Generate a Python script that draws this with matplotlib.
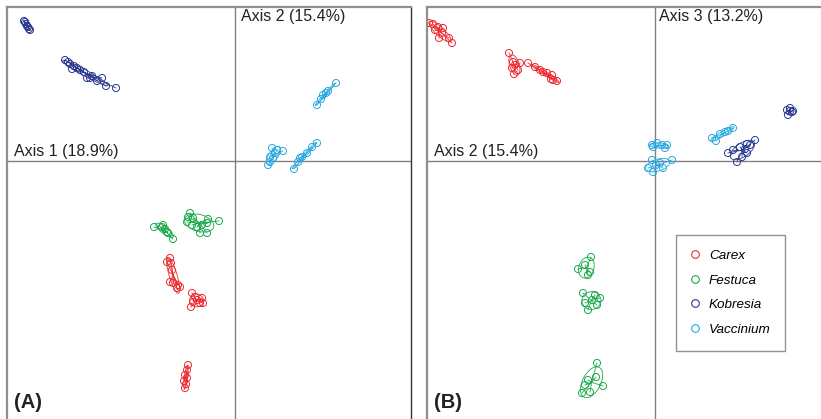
import numpy as np
import matplotlib
matplotlib.use('Agg')
import matplotlib.pyplot as plt
from matplotlib.patches import Ellipse
from matplotlib.lines import Line2D

plt.rcParams['font.family'] = ['Liberation Sans', 'DejaVu Sans']

# colours of the four genera
RED = '#EE2A30'
GREEN = '#1BA94C'
DBLUE = '#2B3990'
LBLUE = '#27AAE1'

species = ['Carex', 'Festuca', 'Kobresia', 'Vaccinium']
species_colors = [RED, GREEN, DBLUE, LBLUE]

# Panel A: axis 1 (x) vs axis 2 (y) scores, one list pair per sub-group
a_kob1_x = [-2.10, -2.09, -2.08, -2.06, -2.05, -2.11, -2.07]
a_kob1_y = [1.39, 1.37, 1.35, 1.32, 1.31, 1.40, 1.34]
a_kob2_x = [-1.70, -1.67, -1.65, -1.63, -1.61, -1.58, -1.55, -1.51, -1.48, -1.43, -1.38, -1.33, -1.29, -1.19, -1.45]
a_kob2_y = [1.01, 0.99, 0.97, 0.92, 0.95, 0.93, 0.91, 0.89, 0.83, 0.85, 0.80, 0.83, 0.75, 0.73, 0.83]

a_vac1_x = [1.01, 0.93, 0.91, 0.88, 0.82, 0.86]
a_vac1_y = [0.78, 0.70, 0.68, 0.66, 0.56, 0.62]
a_vac2_x = [0.82, 0.77, 0.72, 0.67, 0.65, 0.63, 0.59]
a_vac2_y = [0.18, 0.14, 0.08, 0.04, 0.03, -0.01, -0.08]
a_vac3_x = [0.37, 0.42, 0.48, 0.40, 0.35, 0.38, 0.35, 0.33]
a_vac3_y = [0.13, 0.11, 0.10, 0.08, 0.04, 0.03, -0.01, -0.04]

a_fes1_x = [-0.81, -0.73, -0.72, -0.70, -0.68, -0.67, -0.62]
a_fes1_y = [-0.66, -0.66, -0.64, -0.68, -0.71, -0.72, -0.78]
a_fes2_x = [-0.45, -0.47, -0.48, -0.42, -0.43, -0.38, -0.33, -0.28, -0.27, -0.16, -0.28, -0.35]
a_fes2_y = [-0.52, -0.56, -0.61, -0.57, -0.64, -0.66, -0.64, -0.62, -0.58, -0.60, -0.72, -0.72]

a_car1_x = [-0.65, -0.68, -0.64, -0.63, -0.65, -0.62, -0.57, -0.58, -0.55]
a_car1_y = [-0.97, -1.01, -1.02, -1.09, -1.21, -1.22, -1.24, -1.27, -1.26]
a_car2_x = [-0.43, -0.40, -0.38, -0.33, -0.35, -0.44, -0.42, -0.32]
a_car2_y = [-1.32, -1.36, -1.39, -1.37, -1.42, -1.46, -1.41, -1.42]
a_car3_x = [-0.47, -0.48, -0.50, -0.48, -0.51, -0.49, -0.50]
a_car3_y = [-2.04, -2.09, -2.14, -2.17, -2.20, -2.23, -2.27]

# Panel B: axis 2 (x) vs axis 3 (y)
b_car1_x = [-2.26, -2.22, -2.17, -2.12, -2.20, -2.13, -2.16, -2.06, -2.03]
b_car1_y = [1.38, 1.37, 1.34, 1.33, 1.31, 1.28, 1.23, 1.23, 1.18]
b_car2_x = [-1.46, -1.42, -1.43, -1.41, -1.37, -1.35, -1.40]
b_car2_y = [1.08, 0.99, 0.93, 0.87, 0.91, 0.98, 0.96]
b_car3_x = [-1.27, -1.20, -1.15, -1.12, -1.08, -1.03, -1.04, -1.02, -0.98]
b_car3_y = [0.98, 0.94, 0.91, 0.89, 0.88, 0.86, 0.82, 0.81, 0.80]

b_kob1_x = [1.32, 1.35, 1.38, 1.33, 1.37]
b_kob1_y = [0.51, 0.53, 0.50, 0.46, 0.49]
b_kob2_x = [0.73, 0.78, 0.85, 0.90, 0.92, 0.95, 1.00, 0.82, 0.87, 0.92]
b_kob2_y = [0.08, 0.11, 0.14, 0.12, 0.17, 0.16, 0.21, -0.01, 0.04, 0.08]

b_vac1_x = [0.57, 0.61, 0.65, 0.70, 0.73, 0.78]
b_vac1_y = [0.23, 0.20, 0.27, 0.29, 0.30, 0.33]
b_vac2_x = [-0.03, 0.02, 0.07, 0.12, 0.10, -0.02]
b_vac2_y = [0.16, 0.18, 0.16, 0.16, 0.13, 0.14]
b_vac3_x = [-0.03, -0.07, -0.02, 0.08, 0.17, 0.05, 0.01]
b_vac3_y = [0.01, -0.07, -0.11, -0.07, 0.01, -0.02, -0.04]

b_fes1_x = [-0.64, -0.77, -0.67, -0.70, -0.65]
b_fes1_y = [-0.96, -1.08, -1.14, -1.04, -1.11]
b_fes2_x = [-0.72, -0.60, -0.55, -0.67, -0.70, -0.63, -0.58]
b_fes2_y = [-1.32, -1.34, -1.37, -1.49, -1.42, -1.39, -1.44]
b_fes3_x = [-0.58, -0.59, -0.52, -0.70, -0.73, -0.65, -0.67]
b_fes3_y = [-2.02, -2.16, -2.25, -2.24, -2.32, -2.31, -2.19]

groups_a = [
    (RED, a_car1_x, a_car1_y), (RED, a_car2_x, a_car2_y), (RED, a_car3_x, a_car3_y),
    (GREEN, a_fes1_x, a_fes1_y), (GREEN, a_fes2_x, a_fes2_y),
    (DBLUE, a_kob1_x, a_kob1_y), (DBLUE, a_kob2_x, a_kob2_y),
    (LBLUE, a_vac1_x, a_vac1_y), (LBLUE, a_vac2_x, a_vac2_y), (LBLUE, a_vac3_x, a_vac3_y),
]
groups_b = [
    (RED, b_car1_x, b_car1_y), (RED, b_car2_x, b_car2_y), (RED, b_car3_x, b_car3_y),
    (GREEN, b_fes1_x, b_fes1_y), (GREEN, b_fes2_x, b_fes2_y), (GREEN, b_fes3_x, b_fes3_y),
    (DBLUE, b_kob1_x, b_kob1_y), (DBLUE, b_kob2_x, b_kob2_y),
    (LBLUE, b_vac1_x, b_vac1_y), (LBLUE, b_vac2_x, b_vac2_y), (LBLUE, b_vac3_x, b_vac3_y),
]


def draw_class(ax, color, xs, ys):
    # s.class style: spider to centroid, 1.5 sd ellipse, open points
    x = np.array(xs)
    y = np.array(ys)
    cx, cy = x.mean(), y.mean()
    for xi, yi in zip(x, y):
        ax.plot([cx, xi], [cy, yi], color=color, lw=0.6, zorder=2)
    cov = np.cov(x, y)
    vals, vecs = np.linalg.eigh(cov)
    angle = np.degrees(np.arctan2(vecs[1, 1], vecs[0, 1]))
    w = 2 * 1.5 * np.sqrt(max(vals[1], 0))
    h = 2 * 1.5 * np.sqrt(max(vals[0], 0))
    ax.add_patch(Ellipse((cx, cy), w, h, angle=angle, fill=False,
                         edgecolor=color, lw=0.6, zorder=2))
    ax.scatter(x, y, s=26, facecolors='none', edgecolors=color,
               linewidths=0.7, zorder=3)


def setup_panel(ax, xlim, ylim, right_spine):
    ax.set_xlim(*xlim)
    ax.set_ylim(*ylim)
    ax.set_xticks([])
    ax.set_yticks([])
    ax.spines['bottom'].set_visible(False)
    for side in ['left', 'top']:
        ax.spines[side].set_color('#8f8f8f')
        ax.spines[side].set_linewidth(1.6)
    if right_spine:
        ax.spines['right'].set_color('#333333')
        ax.spines['right'].set_linewidth(1.0)
    else:
        ax.spines['right'].set_visible(False)
    ax.axhline(0, color='#808080', lw=1.0, zorder=1)
    ax.axvline(0, color='#808080', lw=1.0, zorder=1)


fig = plt.figure(figsize=(8.21, 4.19), dpi=100)
ax_a = fig.add_axes([7 / 821, 0, 404 / 821, 412 / 419])
ax_b = fig.add_axes([427 / 821, 0, 394 / 821, 412 / 419])

setup_panel(ax_a, (-2.28, 1.76), (-2.58, 1.54), True)
setup_panel(ax_b, (-2.28, 1.66), (-2.58, 1.54), False)

for color, xs, ys in groups_a:
    draw_class(ax_a, color, xs, ys)
for color, xs, ys in groups_b:
    draw_class(ax_b, color, xs, ys)

lab = dict(fontsize=11.5, color='#222222')
ax_a.text(0.579, 0.995, 'Axis 2 (15.4%)', transform=ax_a.transAxes, va='top', ha='left', **lab)
ax_a.text(0.017, 0.631, 'Axis 1 (18.9%)', transform=ax_a.transAxes, va='bottom', ha='left', **lab)
ax_b.text(0.589, 0.995, 'Axis 3 (13.2%)', transform=ax_b.transAxes, va='top', ha='left', **lab)
ax_b.text(0.018, 0.631, 'Axis 2 (15.4%)', transform=ax_b.transAxes, va='bottom', ha='left', **lab)

ax_a.text(0.017, 0.027, '(A)', transform=ax_a.transAxes, fontsize=14.5,
          fontweight='bold', color='#222222', va='baseline')
ax_b.text(0.018, 0.027, '(B)', transform=ax_b.transAxes, fontsize=14.5,
          fontweight='bold', color='#222222', va='baseline')

handles = [Line2D([], [], ls='none', marker='o', markersize=5.5, markerfacecolor='none',
                  markeredgecolor=c, markeredgewidth=0.8) for c in species_colors]
leg = ax_b.legend(handles, species, loc='upper left', bbox_to_anchor=(0.632, 0.447),
                  borderaxespad=0, prop={'style': 'italic', 'size': 9.7},
                  frameon=True, fancybox=False, edgecolor='#777777',
                  borderpad=1.1, labelspacing=0.9, handlelength=0.6,
                  handletextpad=0.74)
leg.get_frame().set_linewidth(1.0)

fig.savefig('out.png', dpi=100)
